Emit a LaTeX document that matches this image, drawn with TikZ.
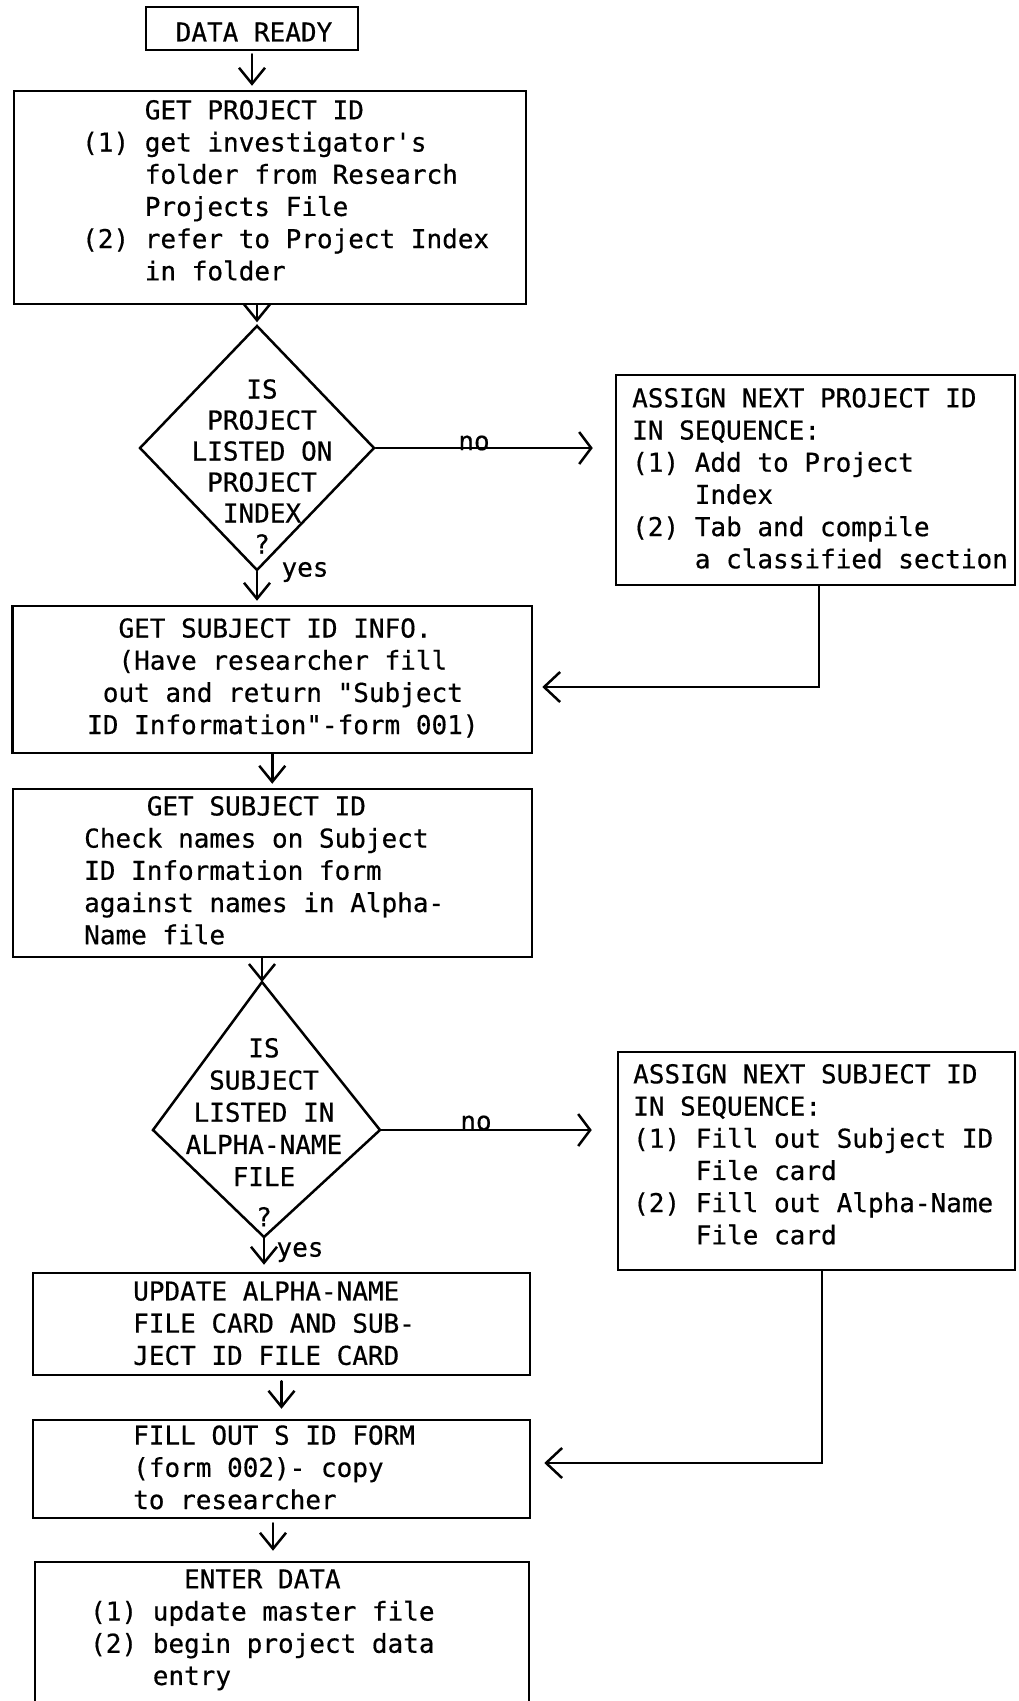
\documentclass[tikz,border=0pt]{standalone}
\usepackage{fontspec}
\setmonofont{DejaVu Sans Mono}[FakeBold=0.5]
\usetikzlibrary{arrows.meta,shapes.geometric}
\newcommand\ind{\hphantom{0000}}
\begin{document}
\begin{tikzpicture}[x=1pt,y=-1pt,
  box/.style={draw, line width=2.5pt, rectangle, inner sep=0pt},
  txt/.style={font=\ttfamily\fontsize{26}{32.2}\selectfont, inner sep=0pt,
    execute at begin node=\strut, execute at end node=\strut},
  lbl/.style={font=\ttfamily\fontsize{26}{32.2}\selectfont, inner sep=0pt},
  arr/.style={line width=2.5pt, line cap=round, -{Straight Barb[length=16pt,width=26pt]}},
  arrh/.style={line width=2.5pt, line cap=round, -{Straight Barb[length=12pt,width=32pt]}},
  arrl/.style={line width=2.5pt, line cap=round, -{Straight Barb[length=16pt,width=30pt]}}]
\fill[white] (0,0) rectangle (1019,1701);
\useasboundingbox (0,0) rectangle (1019,1701);

% boxes
\node[box, minimum width=212, minimum height=43] (b0) at (252,28.5) {};
\node[box, minimum width=512, minimum height=213] (b1) at (270,197.5) {};
\node[draw, diamond, line width=2.5pt, minimum width=235, minimum height=245, inner sep=0pt] (d1) at (257,448) {};
\node[box, minimum width=399, minimum height=210] (a1) at (815.5,480) {};
\node[box, minimum width=519.5, minimum height=147] (b2) at (272.25,679.5) {};
\node[box, minimum width=519, minimum height=168] (b3) at (272.5,873) {};
\coordinate (d2t) at (262,982);
\coordinate (d2r) at (380,1130);
\coordinate (d2b) at (264,1237);
\coordinate (d2l) at (153,1130);
\draw[line width=2.5pt, line join=miter] (d2t) -- (d2r) -- (d2b) -- (d2l) -- cycle;
\node[box, minimum width=397, minimum height=218] (a2) at (816.5,1161) {};
\node[box, minimum width=497, minimum height=102] (b4) at (281.5,1324) {};
\node[box, minimum width=497, minimum height=98] (b5) at (281.5,1469) {};
\node[box, minimum width=494, minimum height=150] (b6) at (282,1637) {};

% texts
\node[txt] (t0) at (254,35) {DATA READY};
\node[txt, align=left, anchor=west] (t1) at (82,195) {\ind GET PROJECT ID\\(1) get investigator's\\\ind folder from Research\\\ind Projects File\\(2) refer to Project Index\\\ind in folder};
\node[txt, align=center, font=\ttfamily\fontsize{26}{31}\selectfont] (t2) at (262,471) {IS\\PROJECT\\LISTED ON\\PROJECT\\INDEX\\?};
\node[txt, align=left, anchor=west] (t3) at (632,483) {ASSIGN NEXT PROJECT ID\\IN SEQUENCE:\\(1) Add to Project\\\ind Index\\(2) Tab and compile\\\ind a classified section};
\node[txt, align=left, anchor=west] (t4) at (87,681) {\hphantom{00}GET SUBJECT ID INFO.\\\hphantom{00}(Have researcher fill\\\hphantom{0}out and return "Subject\\ID Information"-form 001)};
\node[txt, align=left, anchor=west] (t5) at (84,875) {\ind GET SUBJECT ID\\Check names on Subject\\ID Information form\\against names in Alpha-\\Name file};
\node[txt, align=center] (t6) at (264,1137) {IS\\SUBJECT\\LISTED IN\\ALPHA-NAME\\FILE\\[8pt]?};
\node[txt, align=left, anchor=west] (t7) at (633,1159) {ASSIGN NEXT SUBJECT ID\\IN SEQUENCE:\\(1) Fill out Subject ID\\\ind File card\\(2) Fill out Alpha-Name\\\ind File card};
\node[txt, align=left, anchor=west] (t8) at (133,1328) {UPDATE ALPHA-NAME\\FILE CARD AND SUB-\\JECT ID FILE CARD};
\node[txt, align=left, anchor=west] (t9) at (133,1472) {FILL OUT S ID FORM\\(form 002)- copy\\to researcher};
\node[txt, align=left, anchor=west] (t10) at (90,1632) {\hphantom{000000}ENTER DATA\\(1) update master file\\(2) begin project data\\\ind entry};

% labels
\node[lbl] (no1) at (474,443) {no};
\node[lbl] (yes1) at (305,572) {yes};
\node[lbl] (no2) at (476,1123) {no};
\node[lbl] (yes2) at (300,1252) {yes};

% connectors
\draw[arr, shorten <=3pt, shorten >=4pt] (b0.south) -- (b0.south |- b1.north);
\draw[arr, shorten >=2pt] (b1.south -| d1.north) -- (d1.north);
\draw[arrh, shorten >=22pt] (d1.east) -- (d1.east -| a1.west);
\draw[arr, shorten >=4pt] (d1.south) -- (d1.south |- b2.north);
\coordinate (e1) at (819,687);
\draw[arrl, shorten >=9pt] (a1.south -| e1) -- (e1) -- (e1 -| b2.east);
\draw[arr, shorten >=4pt] (b2.south) -- (b2.south |- b3.north);
\draw[arr] (b3.south -| d2t) -- (d2t);
\draw[arrh, shorten >=25pt] (d2r) -- (d2r -| a2.west);
\draw[arr, shorten >=7pt] (d2b) -- (d2b |- b4.north);
\draw[arr, shorten <=5pt, shorten >=10pt] (b4.south) -- (b4.south |- b5.north);
\draw[arr, shorten <=4pt, shorten >=10pt] ([xshift=-8.5pt]b5.south) -- ([xshift=-8.5pt]b5.south |- b6.north);
\coordinate (e2) at (822,1463);
\draw[arrl, shorten >=13pt] (a2.south -| e2) -- (e2) -- (e2 -| b5.east);
\end{tikzpicture}
\end{document}
